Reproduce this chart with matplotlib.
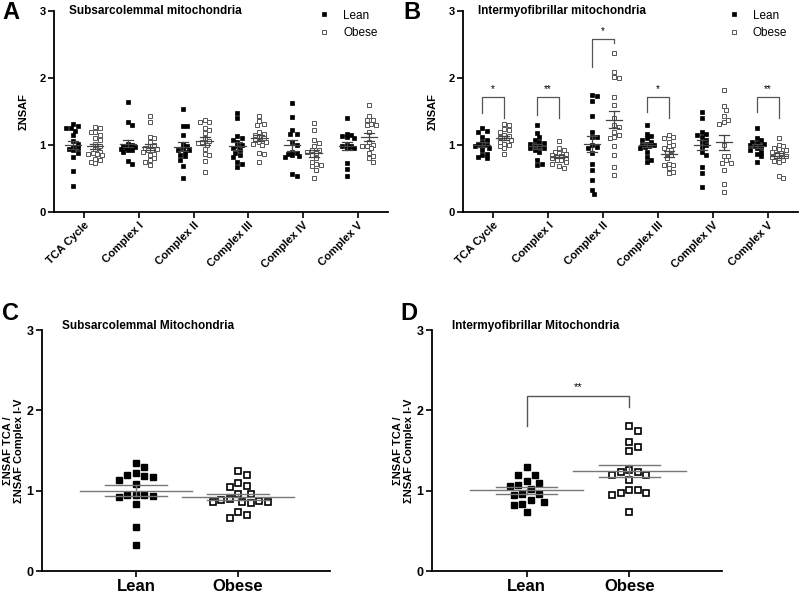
import matplotlib
matplotlib.use("Agg")
import matplotlib.pyplot as plt
import numpy as np

plt.rcParams['font.family'] = ['Liberation Sans', 'DejaVu Sans']

# complex categories for panels A and B
complexes = ["TCA Cycle", "Complex I", "Complex II", "Complex III", "Complex IV", "Complex V"]

# panel A - subsarcolemmal, lean
ss_lean = [
    [1.32, 1.28, 1.26, 1.25, 1.21, 1.15, 1.06, 1.02, 0.97, 0.95, 0.94, 0.92, 0.88, 0.82, 0.61, 0.39],
    [1.64, 1.34, 1.30, 1.02, 1.00, 0.99, 0.98, 0.97, 0.96, 0.95, 0.94, 0.93, 0.92, 0.90, 0.76, 0.72],
    [1.53, 1.29, 1.29, 1.15, 1.02, 0.98, 0.95, 0.93, 0.92, 0.90, 0.85, 0.83, 0.78, 0.68, 0.51],
    [1.48, 1.41, 1.13, 1.10, 1.08, 1.05, 1.00, 0.98, 0.95, 0.92, 0.88, 0.85, 0.82, 0.75, 0.72, 0.67],
    [1.62, 1.42, 1.22, 1.17, 1.16, 1.05, 1.00, 0.90, 0.88, 0.87, 0.85, 0.84, 0.82, 0.56, 0.53],
    [1.40, 1.17, 1.15, 1.13, 1.12, 1.10, 1.00, 0.99, 0.98, 0.97, 0.96, 0.95, 0.73, 0.64, 0.54],
]
# panel A - subsarcolemmal, obese
ss_obese = [
    [1.27, 1.25, 1.20, 1.19, 1.15, 1.10, 1.07, 1.02, 0.98, 0.94, 0.90, 0.88, 0.87, 0.86, 0.85, 0.79, 0.78, 0.75, 0.73],
    [1.44, 1.34, 1.12, 1.10, 1.05, 1.00, 0.98, 0.96, 0.94, 0.93, 0.92, 0.90, 0.87, 0.85, 0.80, 0.78, 0.74, 0.70],
    [1.38, 1.35, 1.34, 1.26, 1.22, 1.18, 1.10, 1.06, 1.04, 1.03, 1.00, 0.94, 0.86, 0.85, 0.76, 0.60],
    [1.43, 1.36, 1.32, 1.30, 1.20, 1.17, 1.15, 1.12, 1.10, 1.08, 1.05, 1.04, 1.02, 1.00, 0.88, 0.86, 0.74],
    [1.33, 1.23, 1.08, 1.03, 0.98, 0.93, 0.92, 0.90, 0.88, 0.85, 0.80, 0.75, 0.72, 0.70, 0.68, 0.63, 0.51],
    [1.59, 1.43, 1.38, 1.37, 1.32, 1.30, 1.30, 1.20, 1.05, 1.00, 0.99, 0.98, 0.95, 0.88, 0.83, 0.80, 0.75],
]

# panel B - intermyofibrillar, lean
imf_lean = [
    [1.25, 1.21, 1.20, 1.12, 1.08, 1.05, 1.02, 1.00, 0.99, 0.98, 0.95, 0.92, 0.87, 0.85, 0.82, 0.80],
    [1.30, 1.18, 1.12, 1.07, 1.05, 1.03, 1.02, 1.00, 0.98, 0.96, 0.95, 0.93, 0.90, 0.77, 0.72, 0.70],
    [1.75, 1.73, 1.65, 1.43, 1.20, 1.12, 1.12, 1.00, 0.97, 0.96, 0.88, 0.72, 0.62, 0.48, 0.33, 0.27],
    [1.30, 1.17, 1.13, 1.10, 1.08, 1.05, 1.02, 1.00, 1.00, 0.98, 0.97, 0.95, 0.90, 0.82, 0.78, 0.75],
    [1.50, 1.40, 1.20, 1.17, 1.15, 1.12, 1.08, 1.05, 1.00, 0.97, 0.90, 0.85, 0.67, 0.58, 0.38],
    [1.25, 1.10, 1.07, 1.05, 1.03, 1.02, 1.00, 1.00, 0.98, 0.97, 0.95, 0.93, 0.90, 0.87, 0.83, 0.75],
]
# panel B - intermyofibrillar, obese
imf_obese = [
    [1.31, 1.30, 1.24, 1.22, 1.20, 1.15, 1.13, 1.12, 1.10, 1.08, 1.05, 1.02, 1.00, 0.98, 0.95, 0.87],
    [1.06, 0.95, 0.92, 0.90, 0.88, 0.86, 0.85, 0.84, 0.82, 0.80, 0.80, 0.78, 0.77, 0.75, 0.72, 0.68, 0.65],
    [2.37, 2.09, 2.02, 2.00, 1.72, 1.60, 1.40, 1.30, 1.27, 1.20, 1.15, 1.12, 1.10, 0.98, 0.85, 0.67, 0.55],
    [1.15, 1.12, 1.10, 1.05, 1.00, 0.98, 0.95, 0.92, 0.88, 0.85, 0.80, 0.72, 0.70, 0.70, 0.65, 0.60, 0.58],
    [1.82, 1.58, 1.52, 1.43, 1.38, 1.35, 1.32, 1.00, 0.83, 0.83, 0.77, 0.73, 0.73, 0.62, 0.42, 0.30],
    [1.10, 1.00, 0.98, 0.96, 0.94, 0.92, 0.90, 0.88, 0.86, 0.84, 0.82, 0.80, 0.78, 0.76, 0.74, 0.53, 0.51],
]
# significance brackets in B: (category, label, top, left leg bottom, right leg bottom)
imf_sig = [(0, "*", 1.72, 1.48, 1.40), (1, "**", 1.72, 1.45, 1.40),
           (2, "*", 2.58, 2.17, 2.52), (3, "*", 1.72, 1.50, 1.40),
           (5, "**", 1.72, 1.50, 1.40)]

# panels C and D - TCA / complex I-V ratio
groups = ["Lean", "Obese"]
ratio_ss_lean = [1.34, 1.29, 1.22, 1.18, 1.20, 1.17, 1.13, 1.08, 0.95, 0.93, 0.92, 0.94, 0.95, 0.84, 0.55, 0.32]
ratio_ss_obese = [1.24, 1.19, 1.05, 1.10, 1.06, 0.96, 0.96, 0.88, 0.86, 0.86, 0.85, 0.86, 0.87, 0.90, 0.73, 0.66, 0.70]
ratio_imf_lean = [1.29, 1.20, 1.20, 1.10, 1.07, 1.12, 1.06, 1.02, 0.94, 0.96, 0.96, 0.86, 0.82, 0.83, 0.88, 0.73]
ratio_imf_obese = [1.81, 1.74, 1.61, 1.54, 1.49, 1.23, 1.20, 1.26, 1.20, 1.23, 1.13, 1.01, 0.97, 0.95, 0.97, 1.01, 0.74]


def swarm(vals, ppx, ppy, d, maxw):
    # simple beeswarm offsets (data x units); width limited to +-maxw pixels
    vals = np.asarray(vals, float)
    offs = np.zeros(len(vals))
    placed = []
    cands = [0.0]
    k = 1
    while k * d / 2 <= maxw:
        cands += [k * d / 2, -k * d / 2]
        k += 1
    for i in np.argsort(-vals):
        y = vals[i] * ppy
        best, bestgap = 0.0, -1
        for c in cands:
            gap = min([np.hypot(c - px, y - py) for px, py in placed] + [1e9])
            if gap >= d:
                best = c
                break
            if gap > bestgap + 0.5:
                best, bestgap = c, gap
        placed.append((best, y))
        offs[i] = best / ppx
    return offs


def mean_sem(ax, x, vals, hw_mean, hw_sem, color, lw):
    v = np.asarray(vals)
    m = v.mean()
    s = v.std(ddof=1) / np.sqrt(len(v))
    ax.plot([x - hw_mean, x + hw_mean], [m, m], color=color, lw=lw, zorder=4)
    ax.plot([x - hw_sem, x + hw_sem], [m + s, m + s], color=color, lw=lw, zorder=4)
    ax.plot([x - hw_sem, x + hw_sem], [m - s, m - s], color=color, lw=lw, zorder=4)
    ax.plot([x, x], [m - s, m + s], color=color, lw=lw, zorder=4)


def style_axes(ax):
    for sp in ["top", "right"]:
        ax.spines[sp].set_visible(False)
    for sp in ["left", "bottom"]:
        ax.spines[sp].set_linewidth(1.3)
    ax.set_ylim(0, 3)
    ax.set_yticks([0, 1, 2, 3])
    ax.tick_params(direction="out", length=4, width=1.2, pad=2)
    for lab in ax.get_yticklabels():
        lab.set_fontweight("bold")


fig = plt.figure(figsize=(8, 6.01), dpi=100)
W, H = 800, 601


def add_axes(x0, x1, ytop, ybot):
    return fig.add_axes([x0 / W, 1 - ybot / H, (x1 - x0) / W, (ybot - ytop) / H])


def complex_panel(ax, lean, obese, title, sig):
    style_axes(ax)
    xlo, xhi = -0.55, 5.55
    ax.set_xlim(xlo, xhi)
    ppx = ax.get_position().width * W / (xhi - xlo)
    ppy = ax.get_position().height * H / 3
    dx = 0.2
    for i in range(len(complexes)):
        xl = i - dx + swarm(lean[i], ppx, ppy, 4.5, 8)
        xo = i + dx + swarm(obese[i], ppx, ppy, 4.5, 8)
        ax.plot(xl, lean[i], "s", ms=3.0, mfc="black", mec="black", mew=0.5, ls="none", zorder=3,
                label="Lean" if i == 0 else None)
        ax.plot(xo, obese[i], "s", ms=3.0, mfc="white", mec="#555555", mew=0.7, ls="none", zorder=3,
                label="Obese" if i == 0 else None)
        mean_sem(ax, i - dx, lean[i], 0.15, 0.09, "#444444", 0.9)
        mean_sem(ax, i + dx, obese[i], 0.15, 0.09, "#444444", 0.9)
    for c, lab, top, lb, rb in sig:
        ax.plot([c - dx, c - dx, c + dx, c + dx], [lb, top, top, rb], color="#555555", lw=0.9)
        ax.text(c, top + 0.04, lab, ha="center", va="bottom", fontsize=7)
    ax.set_xticks(range(len(complexes)))
    ax.set_xticklabels(complexes, rotation=45, ha="right", rotation_mode="anchor",
                       fontsize=8, fontweight="bold")
    ax.tick_params(axis="y", labelsize=8)
    ax.set_ylabel("ΣNSAF", fontsize=8, fontweight="bold", labelpad=8)
    ax.text(0.045, 1.0, title, transform=ax.transAxes, fontsize=8.5, fontweight="bold",
            va="center", ha="left")
    ax.legend(loc="upper right", bbox_to_anchor=(1.0, 1.06), frameon=False, fontsize=8.5,
              handletextpad=0.6, labelspacing=0.5, markerscale=1.1)


def ratio_panel(ax, lean, obese, title, sig=None):
    style_axes(ax)
    xlo, xhi = -0.92, 1.9
    ax.set_xlim(xlo, xhi)
    ppx = ax.get_position().width * W / (xhi - xlo)
    ppy = ax.get_position().height * H / 3
    ax.plot(0 + swarm(lean, ppx, ppy, 8.5, 40), lean, "s", ms=5, mfc="black", mec="black",
            ls="none", zorder=3)
    ax.plot(1 + swarm(obese, ppx, ppy, 8.5, 40), obese, "s", ms=5, mfc="white", mec="black",
            mew=1.2, ls="none", zorder=3)
    mean_sem(ax, 0, lean, 0.55, 0.3, "#777777", 1.0)
    mean_sem(ax, 1, obese, 0.55, 0.3, "#777777", 1.0)
    if sig is not None:
        lab, top, lb, rb = sig
        ax.plot([0, 0, 1, 1], [lb, top, top, rb], color="#555555", lw=1.0)
        ax.text(0.5, top + 0.05, lab, ha="center", va="bottom", fontsize=8)
    ax.set_xticks([0, 1])
    ax.set_xticklabels(groups, fontsize=12, fontweight="bold")
    ax.tick_params(axis="y", labelsize=9)
    ax.set_ylabel("ΣNSAF TCA /\nΣNSAF Complex I-V", fontsize=8, fontweight="bold",
                  labelpad=2, linespacing=1.1)
    ax.text(0.07, 1.015, title, transform=ax.transAxes, fontsize=8.5, fontweight="bold",
            va="center", ha="left")


axA = add_axes(54, 388, 11, 212)
complex_panel(axA, ss_lean, ss_obese, "Subsarcolemmal mitochondria", [])
axB = add_axes(463, 798, 11, 212)
complex_panel(axB, imf_lean, imf_obese, "Intermyofibrillar mitochondria", imf_sig)
axC = add_axes(42, 330, 330, 571)
ratio_panel(axC, ratio_ss_lean, ratio_ss_obese, "Subsarcolemmal Mitochondria")
axD = add_axes(432, 722, 330, 571)
ratio_panel(axD, ratio_imf_lean, ratio_imf_obese, "Intermyofibrillar Mitochondria",
            ("**", 2.18, 1.80, 2.04))

for lab, x, y in [("A", 2, 1), ("B", 403, 1), ("C", 2, 302), ("D", 400, 302)]:
    fig.text(x / W, 1 - y / H, lab, fontsize=17, fontweight="bold", va="top", ha="left")

fig.savefig("out.png", dpi=100)
